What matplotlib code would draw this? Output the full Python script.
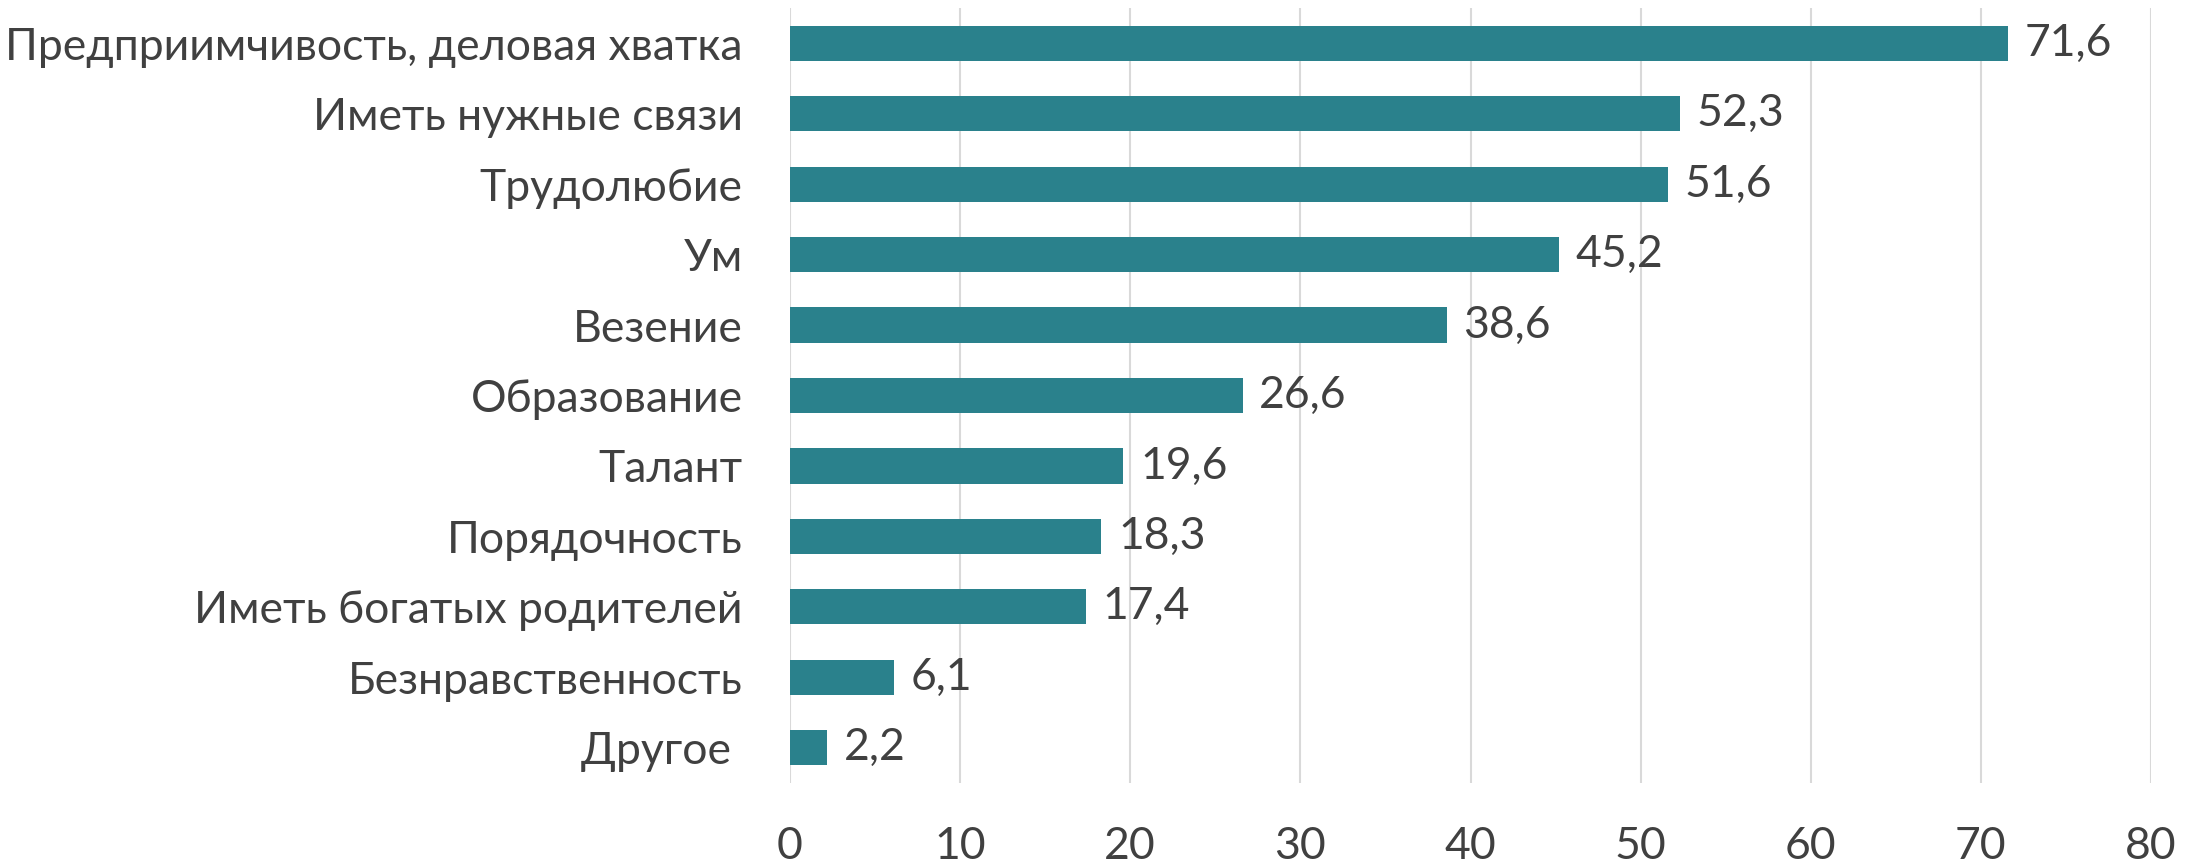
import matplotlib
matplotlib.use('Agg')
import matplotlib.pyplot as plt

# data (top to bottom)
categories = ['Предприимчивость, деловая хватка', 'Иметь нужные связи', 'Трудолюбие',
              'Ум', 'Везение', 'Образование', 'Талант', 'Порядочность',
              'Иметь богатых родителей', 'Безнравственность', 'Другое ']
values = [71.6, 52.3, 51.6, 45.2, 38.6, 26.6, 19.6, 18.3, 17.4, 6.1, 2.2]
xticks = [0, 10, 20, 30, 40, 50, 60, 70, 80]

plt.rcParams['font.family'] = ['Lato', 'DejaVu Sans']
text_color = '#404040'
bar_color = '#2A818C'

fig = plt.figure(figsize=(22.03, 8.68), dpi=100)
ax = fig.add_axes([0.3586, 0.0979, 0.9764 - 0.3586, 0.9908 - 0.0979])

pos = list(range(len(categories)))
bars = ax.barh(pos, values, height=0.5, color=bar_color, zorder=3)
ax.bar_label(bars, labels=[f'{v:.1f}'.replace('.', ',') for v in values],
             padding=12, fontsize=32, color=text_color)

ax.set_ylim(len(categories) - 0.5, -0.5)
ax.set_yticks(pos)
ax.set_yticklabels(categories)
ax.set_xlim(0, 80)
ax.set_xticks(xticks)

ax.grid(axis='x', color='#D9D9D9', linewidth=1.5, zorder=0)
for s in ax.spines.values():
    s.set_visible(False)
ax.tick_params(axis='x', length=0, pad=31, labelsize=32, labelcolor=text_color)
ax.tick_params(axis='y', length=0, pad=34, labelsize=32, labelcolor=text_color)

fig.savefig('out.png', dpi=100)
